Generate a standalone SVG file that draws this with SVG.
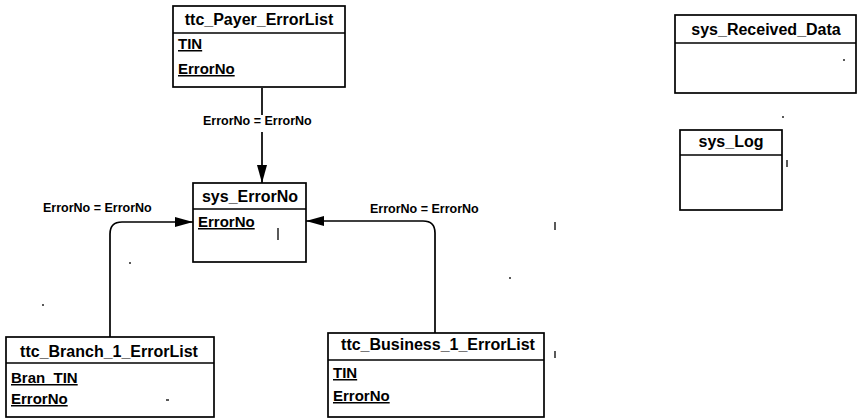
<svg xmlns="http://www.w3.org/2000/svg" width="858" height="419" viewBox="0 0 858 419">
  <style>
    .box { fill: #ffffff; stroke: #000000; stroke-width: 1.7; }
    .sep { stroke: #000000; stroke-width: 1.5; }
    .title { font-family: "Liberation Sans", Arial, sans-serif; font-weight: bold; font-size: 16px; fill: #000; text-anchor: middle; }
    .field { font-family: "Liberation Sans", Arial, sans-serif; font-weight: bold; font-size: 15px; fill: #000; text-decoration: underline; }
    .rel { font-family: "Liberation Sans", Arial, sans-serif; font-weight: bold; font-size: 12.5px; fill: #000; }
    .link { fill: none; stroke: #000000; stroke-width: 1.7; }
    .mark { stroke: #000000; stroke-width: 1.3; }
  </style>
  <defs>
    <marker id="arrow" viewBox="0 0 18 10" refX="18" refY="5" markerWidth="18" markerHeight="10" markerUnits="userSpaceOnUse" orient="auto">
      <path d="M0,0 L18,5 L0,10 Z" fill="#000000"/>
    </marker>
  </defs>
  <rect width="858" height="419" fill="#ffffff"/>

  <!-- relationships -->
  <g id="connectors">
    <path class="link" d="M262,88 V115 M262,132 V183" marker-end="url(#arrow)"/>
    <text class="rel" x="203" y="125">ErrorNo = ErrorNo</text>
    <path class="link" d="M110,337 V234 Q110,222 122,222 H193" marker-end="url(#arrow)"/>
    <text class="rel" x="43" y="212">ErrorNo = ErrorNo</text>
    <path class="link" d="M435,333 V233 Q435,221 423,221 H306" marker-end="url(#arrow)"/>
    <text class="rel" x="370" y="213">ErrorNo = ErrorNo</text>
  </g>

  <g id="ttc_Payer_ErrorList">
    <rect class="box" x="173" y="6" width="172" height="81"/>
    <line class="sep" x1="173" y1="33" x2="345" y2="33"/>
    <text class="title" x="259" y="25">ttc_Payer_ErrorList</text>
    <text class="field" x="178" y="49">TIN</text>
    <text class="field" x="178" y="74">ErrorNo</text>
  </g>

  <g id="sys_ErrorNo">
    <rect class="box" x="193" y="183" width="113" height="79"/>
    <line class="sep" x1="193" y1="209" x2="306" y2="209"/>
    <text class="title" x="250" y="202">sys_ErrorNo</text>
    <text class="field" x="198" y="227">ErrorNo</text>
    <line class="mark" x1="278" y1="228" x2="278" y2="240"/>
  </g>

  <g id="ttc_Branch_1_ErrorList">
    <rect class="box" x="6" y="337" width="208" height="80"/>
    <line class="sep" x1="6" y1="363" x2="214" y2="363"/>
    <text class="title" x="109" y="357">ttc_Branch_1_ErrorList</text>
    <text class="field" x="11" y="383">Bran_TIN</text>
    <text class="field" x="11" y="404">ErrorNo</text>
  </g>

  <g id="ttc_Business_1_ErrorList">
    <rect class="box" x="328" y="333" width="216" height="84"/>
    <line class="sep" x1="328" y1="360" x2="544" y2="360"/>
    <text class="title" x="438" y="350">ttc_Business_1_ErrorList</text>
    <text class="field" x="333" y="378">TIN</text>
    <text class="field" x="333" y="401">ErrorNo</text>
  </g>

  <g id="sys_Received_Data">
    <rect class="box" x="675" y="15" width="181" height="78"/>
    <line class="sep" x1="675" y1="43" x2="856" y2="43"/>
    <text class="title" x="766" y="35">sys_Received_Data</text>
  </g>

  <g id="sys_Log">
    <rect class="box" x="680" y="130" width="102" height="80"/>
    <line class="sep" x1="680" y1="155" x2="782" y2="155"/>
    <text class="title" x="731" y="147">sys_Log</text>
  </g>

  <!-- small specks along the page -->
  <g id="specks">
    <line class="mark" x1="787" y1="160" x2="787" y2="167"/>
    <line class="mark" x1="555" y1="222" x2="555" y2="230"/>
    <line class="mark" x1="555" y1="351" x2="555" y2="358"/>
    <line class="mark" x1="510" y1="277" x2="510" y2="279"/>
    <line class="mark" x1="166" y1="400" x2="169" y2="400"/>
    <line class="mark" x1="130" y1="262" x2="130" y2="264"/>
    <line class="mark" x1="43" y1="304" x2="43" y2="306"/>
    <line class="mark" x1="844" y1="59" x2="844" y2="61"/>
    <line class="mark" x1="783" y1="116" x2="783" y2="118"/>
  </g>
</svg>
